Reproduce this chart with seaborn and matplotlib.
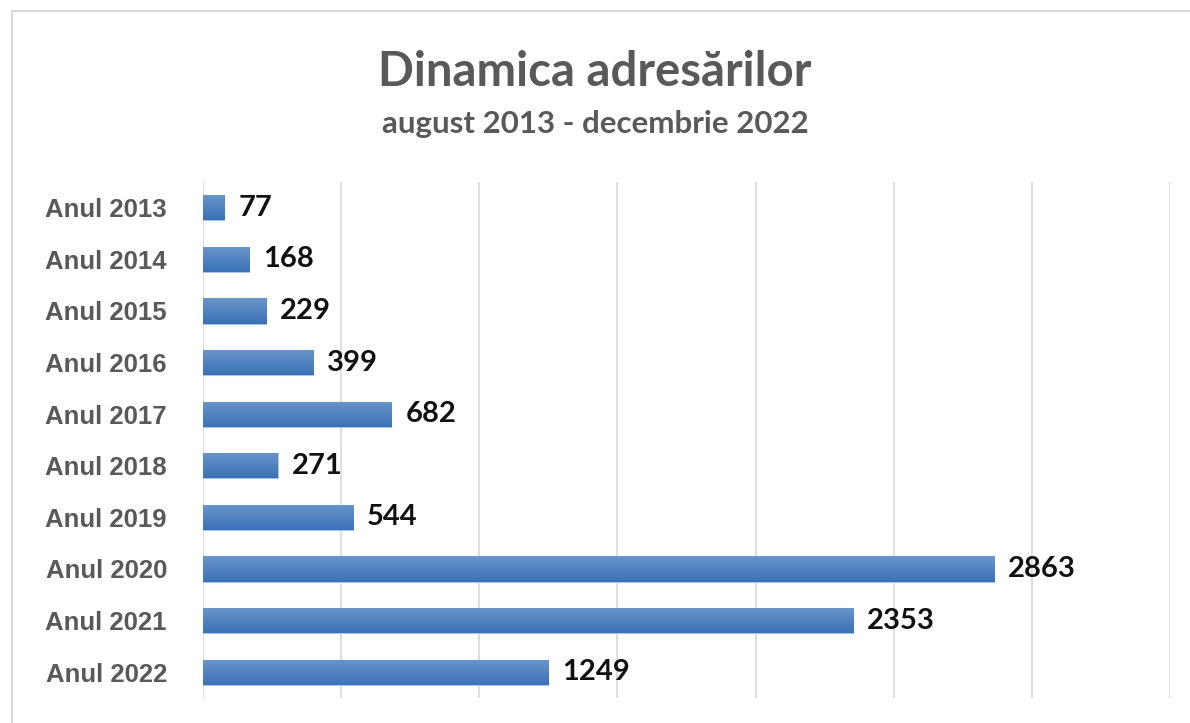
import matplotlib
matplotlib.use("Agg")
import matplotlib.pyplot as plt
import seaborn as sns
import numpy as np
import pandas as pd
from matplotlib.lines import Line2D
from matplotlib.colors import LinearSegmentedColormap

categories = ["Anul 2013", "Anul 2014", "Anul 2015", "Anul 2016", "Anul 2017",
              "Anul 2018", "Anul 2019", "Anul 2020", "Anul 2021", "Anul 2022"]
values = [77, 168, 229, 399, 682, 271, 544, 2863, 2353, 1249]
title = "Dinamica adresărilor"
subtitle = "august 2013 - decembrie 2022"

sns.set_theme(style="white")
plt.rcParams['font.family'] = ['Lato', 'DejaVu Sans']

df = pd.DataFrame({"cat": categories, "val": values})

fig = plt.figure(figsize=(11.9, 7.23), dpi=100)
ax = fig.add_axes([203/1190, 1-698/723, (1170-203)/1190, (698-182)/723])

sns.barplot(data=df, x="val", y="cat", orient="h", color="#4a7ebf",
            width=0.49, ax=ax, edgecolor="#a9c4e6", linewidth=0.8, zorder=3)

ax.set_xlim(0, 3500)
ax.set_xticks(np.arange(0, 3501, 500))
ax.set_xticklabels([])
ax.tick_params(axis="x", length=0)
ax.tick_params(axis="y", length=0, pad=26)
ax.grid(axis="x", color="#d9d9d9", linewidth=1.2, zorder=0)
ax.grid(axis="y", visible=False)
for s in ax.spines.values():
    s.set_visible(False)
ax.set_xlabel("")
ax.set_ylabel("")
for lab in ax.get_yticklabels():
    lab.set_fontfamily("Liberation Sans")
    lab.set_fontweight("bold")
    lab.set_fontsize(18.5)
    lab.set_color("#595959")

# gradient fill on each bar: lighter at the top, darker at the bottom
grad = np.linspace(0, 1, 64).reshape(-1, 1)
cmap = LinearSegmentedColormap.from_list("g", ["#6b95cb", "#3a72b6"])
for p in ax.patches:
    x0, y0 = p.get_x(), p.get_y()
    w, h = p.get_width(), p.get_height()
    im = ax.imshow(grad, extent=[x0, x0 + w, y0 + h, y0], aspect="auto",
                   cmap=cmap, zorder=3.5, origin="upper")
    im.set_clip_path(p)
ax.set_ylim(9.5, -0.5)
ax.set_xlim(0, 3500)

ax.bar_label(ax.containers[0], labels=[str(v) for v in values], padding=10,
             fontsize=21, fontweight="bold", color="#111111", family="Lato")

fig.text(0.5, 1 - 72/723, title, ha="center", va="center", fontsize=34,
         fontweight="bold", color="#595959")
fig.text(0.5, 1 - 124/723, subtitle, ha="center", va="center", fontsize=22.5,
         fontweight="bold", color="#595959")

# outer frame (top and left edges visible)
fig.add_artist(Line2D([12/1190, 1], [1 - 11/723, 1 - 11/723], color="#d9d9d9",
                      linewidth=1.5, transform=fig.transFigure))
fig.add_artist(Line2D([12/1190, 12/1190], [0, 1 - 11/723], color="#d9d9d9",
                      linewidth=1.5, transform=fig.transFigure))

fig.savefig("out.png", dpi=100)
